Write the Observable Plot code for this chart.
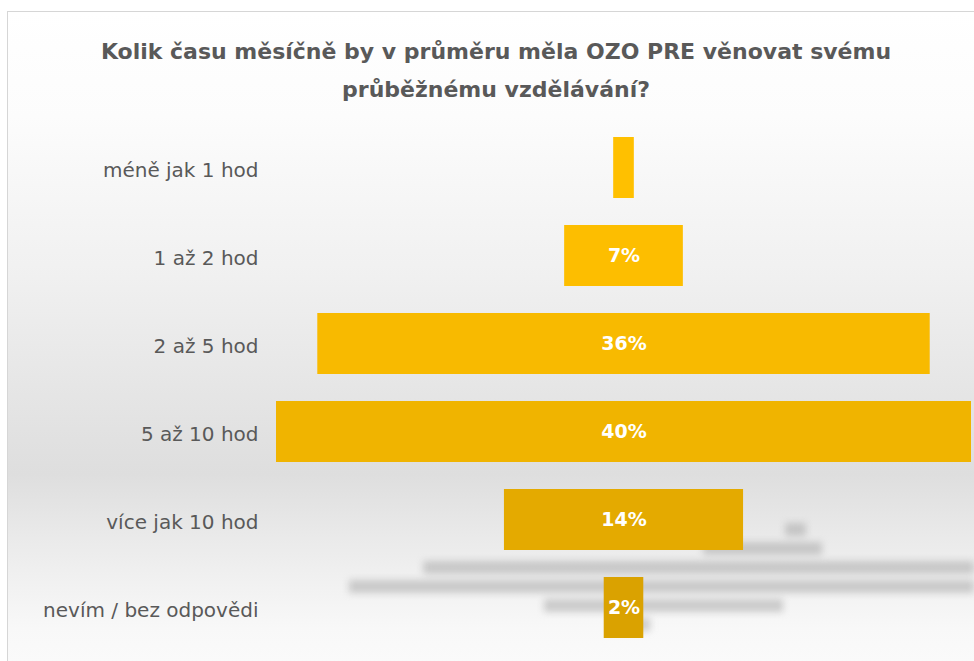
<!DOCTYPE html>
<html>
<head>
<meta charset="utf-8">
<script src="https://cdn.jsdelivr.net/npm/d3@7"></script>
<script src="https://cdn.jsdelivr.net/npm/@observablehq/plot@0.6"></script>
<style>
  html, body { margin: 0; padding: 0; background: #fff; }
  #wrap { position: relative; width: 974px; height: 661px; overflow: hidden; background: #fff; }
  #frame { position: absolute; left: 7px; top: 11px; width: 1000px; height: 700px;
    border-top: 1px solid #d6d6d6; border-left: 1px solid #d6d6d6;
    background: linear-gradient(to bottom, #ffffff 0%, #fcfcfc 15%, #f0f0f0 38%, #e3e3e3 58%, #dedede 66%, #ebebeb 76%, #f8f8f8 88%, #fdfdfd 100%); }
  #title { position: relative; width: 992px; height: 120px; box-sizing: border-box; padding-top: 33px;
    text-align: center; font-family: "DejaVu Sans", sans-serif; font-weight: bold;
    font-size: 22px; line-height: 38px; color: #595959; }
  #shadow { position: absolute; left: 0; top: 120px; filter: blur(3.5px); }
  #shadow svg, #chart svg { display: block; }
  #chart { position: relative; }
</style>
</head>
<body>
<div id="wrap">
  <div id="frame"></div>
  <div id="shadow"></div>
  <div id="title">Kolik času měsíčně by v průměru měla OZO PRE věnovat svému<br>průběžnému vzdělávání?</div>
  <div id="chart"></div>
</div>
<script>
const categories = ["méně jak 1 hod", "1 až 2 hod", "2 až 5 hod", "5 až 10 hod", "více jak 10 hod", "nevím / bez odpovědi"];
const values = [1.2, 6.9, 35.6, 40.4, 13.9, 2.3];
const valueLabels = ["", "7%", "36%", "40%", "14%", "2%"];

const data = categories.map((c, i) => ({category: c, value: values[i], label: valueLabels[i], index: i}));
const barColors = ["#FFC000", "#FDBE00", "#F8BA00", "#F0B400", "#E4AA00", "#DAA200"];

const xDomain = [-20.2, 20.2];
const common = {width: 974, height: 541, marginLeft: 276, marginRight: 3};

// perspective drop shadow of the funnel bars (decorative, derived from the same data)
const pxPerUnit = (974 - 276 - 3) / (xDomain[1] - xDomain[0]);
const shift = d => (7 + 33 * (categories.length - 1 - d.index)) / pxPerUnit;
const shadow = Plot.plot({
  ...common,
  marginTop: 401,
  marginBottom: 27,
  style: {background: "transparent"},
  x: {domain: xDomain, axis: null},
  y: {domain: categories, paddingInner: 0.3, paddingOuter: 0, axis: null},
  marks: [
    Plot.barX(data, {x1: d => -d.value / 2 + shift(d), x2: d => d.value / 2 + shift(d), y: "category", fill: "#9a9a9a", fillOpacity: 0.45})
  ]
});
document.getElementById("shadow").appendChild(shadow);

const chart = Plot.plot({
  ...common,
  marginTop: 15,
  marginBottom: 21,
  style: {background: "transparent", fontFamily: "'DejaVu Sans', sans-serif", color: "#595959"},
  x: {domain: xDomain, axis: null},
  y: {domain: categories, paddingInner: 0.31, paddingOuter: 0, axis: null},
  color: {domain: categories, range: barColors},
  marks: [
    Plot.barX(data, {x1: d => -d.value / 2, x2: d => d.value / 2, y: "category", fill: "category"}),
    Plot.text(data, {x: 0, y: "category", text: "label", fill: "white", fontWeight: "bold", fontSize: 19}),
    Plot.axisY({tickSize: 0, tickPadding: 18, fontSize: 20, dy: 3, label: null, fill: "#595959"})
  ]
});
document.getElementById("chart").appendChild(chart);
</script>
</body>
</html>
